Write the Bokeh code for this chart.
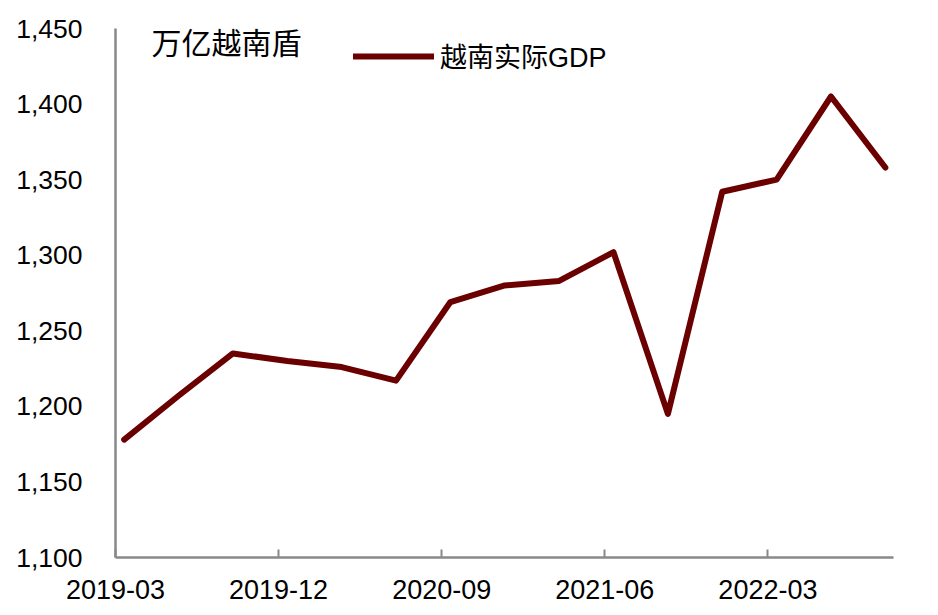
from bokeh.plotting import figure
from bokeh.models import (Range1d, FixedTicker, NumeralTickFormatter, Legend,
                          LegendItem, Label, ColumnDataSource)
from bokeh.embed import file_html
from bokeh.resources import INLINE

quarters = ["2019-03", "2019-06", "2019-09", "2019-12", "2020-03", "2020-06",
            "2020-09", "2020-12", "2021-03", "2021-06", "2021-09", "2021-12",
            "2022-03", "2022-06", "2022-09"]
gdp = [1178, 1207, 1235, 1230, 1226, 1217, 1269, 1280, 1283, 1302,
       1195, 1342, 1350, 1405, 1358]
tick_labels = ["2019-03", "2019-12", "2020-09", "2021-06", "2022-03"]
y_ticks = [1100, 1150, 1200, 1250, 1300, 1350, 1400, 1450]

LINE_COLOR = "#6B0000"
AXIS_COLOR = "#898989"
FONT = "Liberation Sans, Arimo, Noto Sans CJK SC"
CJK = "Noto Sans CJK SC"

OFFSET = 0.16
xpos = [i + OFFSET for i in range(len(quarters))]
tick_pos = [quarters.index(t) for t in tick_labels]

src = ColumnDataSource(dict(x=xpos, y=gdp, q=quarters))

p = figure(width=928, height=608, output_backend="svg", toolbar_location=None,
           x_range=Range1d(0, 14.31), y_range=Range1d(1100, 1450),
           min_border_left=115, min_border_right=35, min_border_top=28,
           min_border_bottom=51)
p.outline_line_color = None
p.grid.visible = False
p.background_fill_color = "white"
p.border_fill_color = "white"

r = p.line("x", "y", source=src, line_color=LINE_COLOR, line_width=6,
           line_join="round", line_cap="round")

# x axis
xa = p.xaxis[0]
xa.ticker = FixedTicker(ticks=tick_pos)
xa.major_label_overrides = {t: lab for t, lab in zip(tick_pos, tick_labels)}
xa.axis_line_color = AXIS_COLOR
xa.axis_line_width = 2.5
xa.major_tick_line_color = AXIS_COLOR
xa.major_tick_line_width = 2
xa.major_tick_in = 8
xa.major_tick_out = 0
xa.minor_tick_line_color = None
xa.major_label_text_font = FONT
xa.major_label_text_font_size = "27px"
xa.major_label_text_color = "black"
xa.major_label_standoff = 22

# y axis
ya = p.yaxis[0]
ya.ticker = FixedTicker(ticks=y_ticks)
ya.formatter = NumeralTickFormatter(format="0,0")
ya.axis_line_color = AXIS_COLOR
ya.axis_line_width = 2.5
ya.major_tick_line_color = None
ya.major_tick_in = 0
ya.major_tick_out = 0
ya.minor_tick_line_color = None
ya.major_label_text_font = FONT
ya.major_label_text_font_size = "26.5px"
ya.major_label_text_color = "black"
ya.major_label_standoff = 33

# unit title
unit = Label(x=36, y=517, x_units="screen", y_units="screen", text="万亿越南盾",
             text_font=CJK, text_font_size="30px", text_color="black",
             text_baseline="middle")
p.add_layout(unit)

legend = Legend(items=[LegendItem(label="越南实际GDP", renderers=[r])],
                location=(238, 482), orientation="horizontal",
                glyph_width=81, glyph_height=24, label_height=24,
                label_standoff=6, padding=0, margin=0, spacing=0,
                label_text_font=FONT, label_text_font_size="27px",
                label_text_color="black",
                border_line_color=None, background_fill_alpha=0)
p.add_layout(legend)

open("out.html", "w").write(file_html(p, INLINE))
